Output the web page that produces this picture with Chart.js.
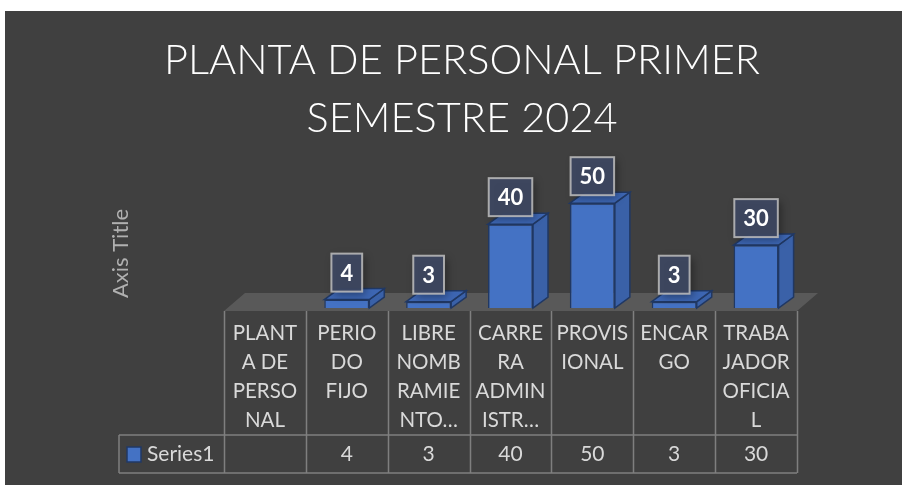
<!DOCTYPE html>
<html>
<head>
<meta charset="utf-8">
<script src="https://cdn.jsdelivr.net/npm/chart.js@4.4.0/dist/chart.umd.min.js"></script>
<style>
  html, body { margin: 0; padding: 0; background: #fff; }
  #wrap { width: 902px; height: 485px; }
</style>
</head>
<body>
<div id="wrap"><canvas id="chart" width="902" height="485"></canvas></div>
<script>
// data
const categories = [
  ['PLANT', 'A DE', 'PERSO', 'NAL'],
  ['PERIO', 'DO', 'FIJO'],
  ['LIBRE', 'NOMB', 'RAMIE', 'NTO…'],
  ['CARRE', 'RA', 'ADMIN', 'ISTR…'],
  ['PROVIS', 'IONAL'],
  ['ENCAR', 'GO'],
  ['TRABA', 'JADOR', 'OFICIA', 'L']
];
const series1 = [null, 4, 3, 40, 50, 3, 30];
const seriesName = 'Series1';
const titleLines = ['PLANTA DE PERSONAL PRIMER', 'SEMESTRE 2024'];
const yAxisTitle = 'Axis Title';

const BG = '#404040';
const TEXT = '#d9d9d9';
const GRID = '#7f7f7f';
const BAR_FRONT = '#4472c4';
const BAR_SIDE = '#3a61a8';
const BAR_TOP = '#3d66b3';
const BAR_EDGE = '#203864';

// background panel
const panelPlugin = {
  id: 'panel',
  beforeDraw(chart) {
    const ctx = chart.ctx;
    ctx.save();
    ctx.fillStyle = '#ffffff';
    ctx.fillRect(0, 0, chart.width, chart.height);
    ctx.fillStyle = BG;
    ctx.fillRect(5, 11, chart.width - 5, chart.height - 11);
    ctx.restore();
  }
};

// 3d floor under the bars
const floorPlugin = {
  id: 'floor',
  beforeDatasetsDraw(chart) {
    const ctx = chart.ctx;
    const area = chart.chartArea;
    const base = chart.scales.y.getPixelForValue(0);
    ctx.save();
    ctx.fillStyle = '#595959';
    ctx.beginPath();
    ctx.moveTo(area.left, base + 3);
    ctx.lineTo(area.right, base + 3);
    ctx.lineTo(area.right + 21, base - 15);
    ctx.lineTo(area.left + 21, base - 15);
    ctx.closePath();
    ctx.fill();
    ctx.restore();
  }
};

// side + top faces, then the boxed value labels
const bar3dPlugin = {
  id: 'bar3d',
  afterDatasetsDraw(chart) {
    const ctx = chart.ctx;
    const meta = chart.getDatasetMeta(0);
    const dx = 15, dy = 11;
    ctx.save();
    ctx.lineWidth = 1.5;
    ctx.strokeStyle = BAR_EDGE;
    meta.data.forEach((bar, i) => {
      if (series1[i] == null) return;
      const p = bar.getProps(['x', 'y', 'base', 'width'], true);
      const l = p.x - p.width / 2, r = p.x + p.width / 2;
      // side
      ctx.fillStyle = BAR_SIDE;
      ctx.beginPath();
      ctx.moveTo(r, p.y);
      ctx.lineTo(r + dx, p.y - dy);
      ctx.lineTo(r + dx, p.base - dy);
      ctx.lineTo(r, p.base);
      ctx.closePath();
      ctx.fill();
      ctx.stroke();
      // top
      ctx.fillStyle = BAR_TOP;
      ctx.beginPath();
      ctx.moveTo(l, p.y);
      ctx.lineTo(l + dx, p.y - dy);
      ctx.lineTo(r + dx, p.y - dy);
      ctx.lineTo(r, p.y);
      ctx.closePath();
      ctx.fill();
      ctx.stroke();
    });

    ctx.font = 'bold 22px Lato';
    ctx.textAlign = 'center';
    ctx.textBaseline = 'middle';
    meta.data.forEach((bar, i) => {
      if (series1[i] == null) return;
      const p = bar.getProps(['x', 'y'], true);
      const txt = String(series1[i]);
      const w = ctx.measureText(txt).width + 18;
      const h = 38;
      const bx = p.x - w / 2, by = p.y - 8 - h;
      ctx.save();
      ctx.shadowColor = 'rgba(0,0,0,0.4)';
      ctx.shadowBlur = 8;
      ctx.shadowOffsetX = 3;
      ctx.shadowOffsetY = 3;
      ctx.fillStyle = 'rgba(62,72,98,0.92)';
      ctx.fillRect(bx, by, w, h);
      ctx.restore();
      ctx.strokeStyle = 'rgba(190,190,190,0.85)';
      ctx.lineWidth = 2;
      ctx.strokeRect(bx, by, w, h);
      ctx.fillStyle = '#ffffff';
      ctx.fillText(txt, p.x, by + h / 2 + 1);
    });
    ctx.restore();
  }
};

// data table under the axis
const tablePlugin = {
  id: 'dataTable',
  afterDraw(chart) {
    const ctx = chart.ctx;
    const xs = chart.scales.x;
    const area = chart.chartArea;
    const colW = (area.right - area.left) / categories.length;
    const top = area.bottom + 3;
    const rowTop = 435, rowBottom = 473, keyLeft = 119;
    ctx.save();
    ctx.strokeStyle = GRID;
    ctx.lineWidth = 1.5;
    ctx.beginPath();
    for (let i = 0; i <= categories.length; i++) {
      const x = Math.round(area.left + i * colW) + 0.5;
      ctx.moveTo(x, top);
      ctx.lineTo(x, rowBottom);
    }
    ctx.moveTo(keyLeft, rowTop);
    ctx.lineTo(keyLeft, rowBottom);
    ctx.moveTo(keyLeft, rowTop);
    ctx.lineTo(area.right, rowTop);
    ctx.moveTo(keyLeft, rowBottom);
    ctx.lineTo(area.right, rowBottom);
    ctx.stroke();

    // legend key + name
    ctx.fillStyle = BAR_FRONT;
    ctx.strokeStyle = BAR_EDGE;
    ctx.lineWidth = 1.5;
    ctx.fillRect(127, 447, 14, 15);
    ctx.strokeRect(127, 447, 14, 15);
    ctx.fillStyle = TEXT;
    ctx.font = '21px Lato';
    ctx.textBaseline = 'middle';
    ctx.textAlign = 'left';
    ctx.fillText(seriesName, 147, (rowTop + rowBottom) / 2);
    ctx.textAlign = 'center';
    series1.forEach((v, i) => {
      if (v == null) return;
      ctx.fillText(String(v), xs.getPixelForValue(i), (rowTop + rowBottom) / 2);
    });
    ctx.restore();
  }
};

new Chart(document.getElementById('chart'), {
  type: 'bar',
  data: {
    labels: categories,
    datasets: [{
      label: seriesName,
      data: series1,
      backgroundColor: BAR_FRONT,
      borderColor: BAR_EDGE,
      borderWidth: 1.5,
      barPercentage: 0.55,
      categoryPercentage: 1
    }]
  },
  options: {
    responsive: false,
    animation: false,
    devicePixelRatio: 1,
    layout: {
      padding: { left: 127, right: 105, top: 11, bottom: 0 }
    },
    plugins: {
      legend: { display: false },
      tooltip: { enabled: false },
      title: {
        display: true,
        text: titleLines,
        color: '#ffffff',
        font: { family: 'Lato', size: 41.5, weight: '300', lineHeight: '58px' },
        padding: { top: 21, bottom: 51 }
      }
    },
    scales: {
      x: {
        grid: { display: false, drawTicks: false },
        border: { display: false },
        ticks: {
          color: TEXT,
          font: { family: 'Lato', size: 20.5, lineHeight: '29px' },
          padding: 11,
          maxRotation: 0,
          autoSkip: false
        },
        afterFit(scale) { scale.height = 177; }
      },
      y: {
        min: 0,
        max: 52,
        grid: { display: false, drawTicks: false },
        border: { display: false },
        ticks: { display: false },
        title: {
          display: true,
          text: yAxisTitle,
          color: '#b0b0b0',
          font: { family: 'Lato', size: 22 },
          padding: { top: -19, bottom: 0 }
        },
        afterFit(scale) { scale.width = 97; }
      }
    }
  },
  plugins: [panelPlugin, floorPlugin, bar3dPlugin, tablePlugin]
});
</script>
</body>
</html>
